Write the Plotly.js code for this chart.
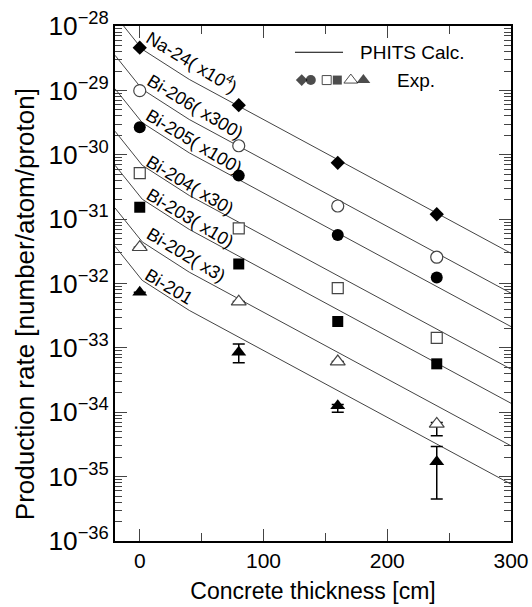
<!DOCTYPE html>
<html>
<head>
<meta charset="utf-8">
<script src="https://cdn.plot.ly/plotly-3.0.1.min.js"></script>
<style>html,body{margin:0;padding:0;background:#fff;}#chart{width:532px;height:607px;}</style>
</head>
<body>
<div id="chart"></div>
<script>
// ---- data ----
const expX = [0, 80, 160, 240];
const calcX = [-20, 2, 40, 300];

const na24Exp  = [4.6e-29, 5.9e-30, 7.5e-31, 1.19e-31];
const bi206Exp = [9.9e-30, 1.38e-30, 1.6e-31, 2.56e-32];
const bi205Exp = [2.67e-30, 4.74e-31, 5.69e-32, 1.24e-32];
const bi204Exp = [5.17e-31, 7.2e-32, 8.45e-33, 1.43e-33];
const bi203Exp = [1.53e-31, 2.01e-32, 2.57e-33, 5.65e-34];
const bi202Exp = [3.66e-32, 5.23e-33, 6.12e-34, 6.6e-35];
const bi201Exp = [7.33e-33, 8.57e-34, 1.26e-34, 1.71e-35];

const bi202ErrPlus  = [null, null, null, 3e-36];
const bi202ErrMinus = [null, null, null, 2.3e-35];
const bi201ErrPlus  = [null, 2.9e-34, 6e-36, 1.22e-35];
const bi201ErrMinus = [null, 2.7e-34, 2.6e-35, 1.26e-35];

const na24Calc  = [1.47e-28, 4.35e-29, 1.48e-29, 2.95e-32];
const bi206Calc = [3.51e-29, 1.04e-29, 3.53e-30, 7.06e-33];
const bi205Calc = [1.06e-29, 3.15e-30, 1.07e-30, 2.14e-33];
const bi204Calc = [2.32e-30, 6.87e-31, 2.33e-31, 4.67e-34];
const bi203Calc = [6.87e-31, 2.04e-31, 6.92e-32, 1.38e-34];
const bi202Calc = [1.49e-31, 4.43e-32, 1.50e-32, 3.01e-35];
const bi201Calc = [3.79e-32, 1.12e-32, 3.82e-33, 7.64e-36];

const seriesNames = ['Na-24( x10<sup>4</sup>)', 'Bi-206( x300)', 'Bi-205( x100)', 'Bi-204( x30)', 'Bi-203( x10)', 'Bi-202( x3)', 'Bi-201'];
const xTitle = 'Concrete thickness [cm]';
const yTitle = 'Production rate [number/atom/proton]';
const legendCalc = 'PHITS Calc.';
const legendExp = 'Exp.';

// ---- styling ----
const FONT = 'Liberation Sans, Arial, sans-serif';
const calcSets = [na24Calc, bi206Calc, bi205Calc, bi204Calc, bi203Calc, bi202Calc, bi201Calc];
const expSets = [na24Exp, bi206Exp, bi205Exp, bi204Exp, bi203Exp, bi202Exp, bi201Exp];
const markerStyles = [
  {symbol: 'diamond', size: 11, color: '#000', line: {color: '#000', width: 0}},
  {symbol: 'circle', size: 12, color: '#fff', line: {color: '#444', width: 1.2}},
  {symbol: 'circle', size: 12, color: '#000', line: {color: '#000', width: 0}},
  {symbol: 'square', size: 11, color: '#fff', line: {color: '#444', width: 1.2}},
  {symbol: 'square', size: 11, color: '#000', line: {color: '#000', width: 0}},
  {symbol: 'triangle-up', size: 13, color: '#fff', line: {color: '#444', width: 1.2}},
  {symbol: 'triangle-up', size: 13, color: '#000', line: {color: '#000', width: 0}}
];

const traces = [];
calcSets.forEach(function (ys) {
  traces.push({x: calcX, y: ys, mode: 'lines', type: 'scatter', showlegend: false,
    line: {color: '#444', width: 1}, hoverinfo: 'skip'});
});
expSets.forEach(function (ys, i) {
  const t = {x: expX, y: ys, mode: 'markers', type: 'scatter', showlegend: false,
    marker: markerStyles[i], cliponaxis: false};
  if (i === 5) t.error_y = {type: 'data', symmetric: false, array: bi202ErrPlus, arrayminus: bi202ErrMinus, color: '#000', thickness: 1.5, width: 6};
  if (i === 6) t.error_y = {type: 'data', symmetric: false, array: bi201ErrPlus, arrayminus: bi201ErrMinus, color: '#000', thickness: 1.5, width: 6};
  traces.push(t);
});

// legend key markers on an invisible overlay axis (0..1 ranges)
const keyX = [0.4715, 0.4945, 0.5346, 0.5614, 0.5955, 0.6273];
const keyY = [0.895, 0.895, 0.895, 0.895, 0.895, 0.895];
traces.push({x: keyX, y: keyY, xaxis: 'x2', yaxis: 'y2', mode: 'markers', type: 'scatter', showlegend: false,
  hoverinfo: 'skip', cliponaxis: false,
  marker: {symbol: ['diamond', 'circle', 'square', 'square', 'triangle-up', 'triangle-up'],
    size: [9, 10, 9, 9, 12, 12],
    color: ['#000', '#000', '#fff', '#000', '#fff', '#000'],
    line: {color: '#000', width: [0, 0, 1, 0, 1, 0]}}});

// label positions along the lines (data x, log10 y)
const labelPos = [[42, -28.554], [44.8, -29.262], [44.2, -29.797], [40.2, -30.469], [40.2, -30.986], [37.5, -31.556], [24, -32.048]];
const annotations = seriesNames.map(function (s, i) {
  return {x: labelPos[i][0], y: labelPos[i][1], xref: 'x', yref: 'y', text: s, showarrow: false,
    textangle: 31, font: {family: FONT, size: 18, color: '#000'}, xanchor: 'center', yanchor: 'middle'};
});
annotations.push({xref: 'paper', yref: 'paper', x: 0.6136, y: 0.949, text: legendCalc, showarrow: false,
  xanchor: 'left', yanchor: 'middle', font: {family: FONT, size: 19, color: '#000'}});
annotations.push({xref: 'paper', yref: 'paper', x: 0.707, y: 0.895, text: legendExp, showarrow: false,
  xanchor: 'left', yanchor: 'middle', font: {family: FONT, size: 19, color: '#000'}});
annotations.push({xref: 'paper', yref: 'paper', x: -0.227, y: 0.46, text: yTitle, showarrow: false,
  textangle: -90, xanchor: 'center', yanchor: 'middle', font: {family: FONT, size: 26, color: '#000'}});

const layout = {
  width: 532, height: 607,
  margin: {l: 115, r: 21, t: 26, b: 66},
  paper_bgcolor: '#fff', plot_bgcolor: '#fff',
  font: {family: FONT, size: 21, color: '#000'},
  showlegend: false,
  xaxis: {
    range: [-20, 300], dtick: 100, tick0: 0,
    ticks: 'inside', ticklen: 12, tickwidth: 1, tickcolor: '#444',
    minor: {dtick: 50, ticks: 'inside', ticklen: 8, tickwidth: 1, tickcolor: '#444'},
    showline: true, linecolor: '#000', linewidth: 2, mirror: 'ticks',
    showgrid: false, zeroline: false,
    tickfont: {family: FONT, size: 21},
    title: {text: xTitle, font: {family: FONT, size: 23}, standoff: 12}
  },
  yaxis: {
    type: 'log', range: [-36, -28], dtick: 1, exponentformat: 'power',
    ticks: 'inside', ticklen: 12, tickwidth: 1, tickcolor: '#444',
    minor: {dtick: 'D1', ticks: 'inside', ticklen: 7, tickwidth: 1, tickcolor: '#444'},
    showline: true, linecolor: '#000', linewidth: 2, mirror: 'ticks',
    showgrid: false, zeroline: false,
    tickfont: {family: FONT, size: 21}
  },
  xaxis2: {overlaying: 'x', anchor: 'y2', range: [0, 1], visible: false, fixedrange: true},
  yaxis2: {overlaying: 'y', anchor: 'x2', range: [0, 1], visible: false, fixedrange: true},
  shapes: [{type: 'line', xref: 'paper', yref: 'paper', x0: 0.4545, x1: 0.5758, y0: 0.949, y1: 0.949,
    line: {color: '#000', width: 1}}],
  annotations: annotations
};

Plotly.newPlot('chart', traces, layout, {displayModeBar: false, staticPlot: true});
</script>
</body>
</html>
